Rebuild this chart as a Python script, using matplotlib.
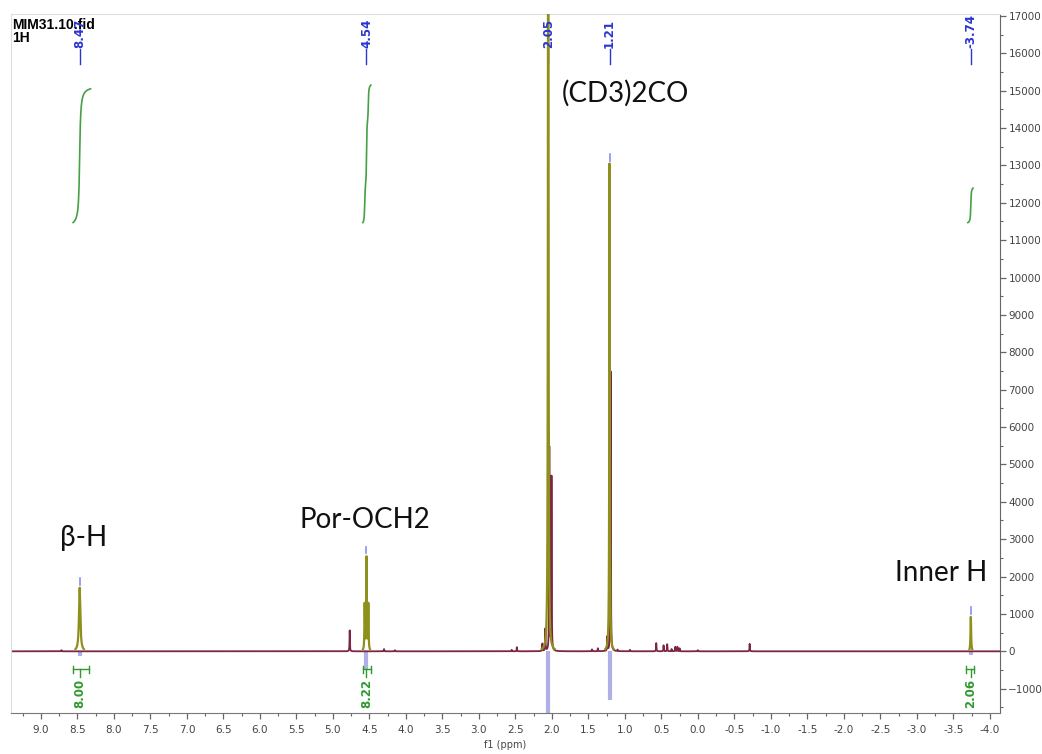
import numpy as np
import matplotlib.pyplot as plt
from matplotlib.ticker import MultipleLocator
from matplotlib.transforms import blended_transform_factory

# picked peaks (ppm)
peak_ppm = [8.47, 4.54, 2.05, 1.21, -3.74]

# main resonances (olive trace)
main_ppm = [8.47, 4.565, 4.54, 4.515, 2.05, 1.21, -3.74]
main_height = [1700, 1230, 2480, 1230, 30000, 13050, 920]
main_hwhm = [0.011, 0.004, 0.004, 0.004, 0.004, 0.004, 0.005]

# small lines / impurities (dark trace)
minor_ppm = [8.72, 4.77, 4.30, 4.15, 2.55, 2.48, 2.13, 2.09, 2.035, 2.005,
             1.45, 1.37, 1.24, 1.195, 1.10, 0.93, 0.57, 0.47, 0.42, 0.36,
             0.31, 0.28, 0.25, 0.00, -0.71]
minor_height = [30, 560, 60, 30, 40, 110, 200, 590, 5450, 4650,
                50, 80, 380, 7500, 40, 40, 220, 160, 190, 60,
                120, 120, 80, 30, 200]

# negative marker traces below the baseline
low_ppm = [8.47, 4.54, 2.05, 1.21, -3.74]
low_depth = [-120, -480, -1700, -1300, -100]

# integrals
integ_value = [8.00, 8.22, 2.06]
integ_center = [8.47, 4.54, -3.74]
integ_from = [8.56, 4.59, -3.68]
integ_to = [8.34, 4.48, -3.79]
curve_from = [8.56, 4.59, -3.70]
curve_to = [8.32, 4.48, -3.77]

annot_text = ["β-H", "Por-OCH2", "(CD3)2CO", "Inner H"]
annot_ppm = [8.42, 4.56, 0.99, -3.34]
annot_y = [3020, 3500, 14920, 2085]

MAROON = "#7d2545"
OLIVE = "#8f8f1c"
BLUE = "#2a36d0"
GREEN = "#2f9a2f"
LAV = "#aeb0e6"


def lorentz(x, x0, h, w):
    return h / (1.0 + ((x - x0) / w) ** 2)


x = np.linspace(9.41, -4.14, 40000)
main_trace = np.zeros_like(x)
for p, h, w in zip(main_ppm, main_height, main_hwhm):
    main_trace += lorentz(x, p, h, w)
minor_trace = np.zeros_like(x)
for p, h in zip(minor_ppm, minor_height):
    minor_trace += lorentz(x, p, h, 0.003)

fig = plt.figure(figsize=(10.42, 7.54), dpi=100)
ax = fig.add_axes([0.0106, 0.0544, 0.9491, 0.927])
ax.set_xlim(9.41, -4.14)
ax.set_ylim(-1650, 17050)

# lavender marker traces
for p, d in zip(low_ppm, low_depth):
    ax.plot([p, p], [0, d], color=LAV, lw=3, solid_capstyle="butt", zorder=1)

ax.plot(x, minor_trace, color=MAROON, lw=1.3, zorder=2)
mask = main_trace > 60
ax.plot(np.where(mask, x, np.nan), np.where(mask, main_trace, np.nan),
        color=OLIVE, lw=1.6, zorder=3)

# small blue ticks above the peak tops
for p in peak_ppm:
    top = main_trace[np.argmin(np.abs(x - p))]
    ax.plot([p, p], [top + 80, top + 260], color="#8a8ff0", lw=1.2, zorder=4)

# integral curves
k = 447.5
base = 11470
for v, a, b in zip(integ_value, curve_from, curve_to):
    sel = (x <= a) & (x >= b)
    xs = x[sel]
    cum = np.cumsum(main_trace[sel])
    cum = cum / cum[-1]
    ax.plot(xs, base + v * k * cum, color="#46a046", lw=1.2, zorder=4)

# integral brackets and values
for v, c, a, b in zip(integ_value, integ_center, integ_from, integ_to):
    ax.plot([a, b], [-480, -480], color=GREEN, lw=1.0)
    ax.plot([a, a], [-390, -570], color=GREEN, lw=1.0)
    ax.plot([b, b], [-390, -570], color=GREEN, lw=1.0)
    ax.plot([c, c], [-480, -700], color=GREEN, lw=1.0)
    ax.text(c, -730, f"{v:.2f}", rotation=90, ha="center", va="top",
            color=GREEN, fontsize=8.5, fontweight="bold", family="DejaVu Sans")

# peak labels along the top
trans = blended_transform_factory(ax.transData, ax.transAxes)
for p in peak_ppm:
    ax.plot([p, p], [0.928, 0.950], color=BLUE, lw=1.0, transform=trans, zorder=1)
    ax.text(p, 0.952, f"{p:.2f}", rotation=90, ha="center", va="bottom",
            color=BLUE, fontsize=8.5, fontweight="bold", transform=trans,
            family="DejaVu Sans", zorder=5)

for t, p, yy in zip(annot_text, annot_ppm, annot_y):
    ax.text(p, yy, t, ha="center", va="center", fontsize=20,
            family=["Lato", "DejaVu Sans"], color="#111111")

ax.text(0.001, 0.995, "MIM31.10.fid\n1H", transform=ax.transAxes, ha="left",
        va="top", fontsize=10, fontweight="bold", family="Liberation Sans",
        linespacing=0.95)

# axes styling
for s in ["left", "top"]:
    ax.spines[s].set_color("#dddddd")
ax.spines["right"].set_color("#666666")
ax.spines["bottom"].set_color("#777777")
ax.yaxis.tick_right()
ax.yaxis.set_major_locator(MultipleLocator(1000))
ax.yaxis.set_minor_locator(MultipleLocator(500))
ax.xaxis.set_major_locator(MultipleLocator(0.5))
ax.xaxis.set_minor_locator(MultipleLocator(0.25))
ax.tick_params(axis="both", which="major", length=4, width=0.9, color="#666666",
               labelsize=7.5, labelcolor="#444444")
ax.tick_params(axis="both", which="minor", length=2.5, width=0.8, color="#666666")
ax.tick_params(axis="y", pad=2)
ax.tick_params(axis="x", pad=5)
ax.xaxis.set_major_formatter(plt.FuncFormatter(lambda v, _: f"{v:.1f}"))
ax.set_xlabel("f1 (ppm)", fontsize=7, color="#444444")
ax.xaxis.set_label_coords(0.5, -0.039)

fig.savefig("out.png", dpi=100)
